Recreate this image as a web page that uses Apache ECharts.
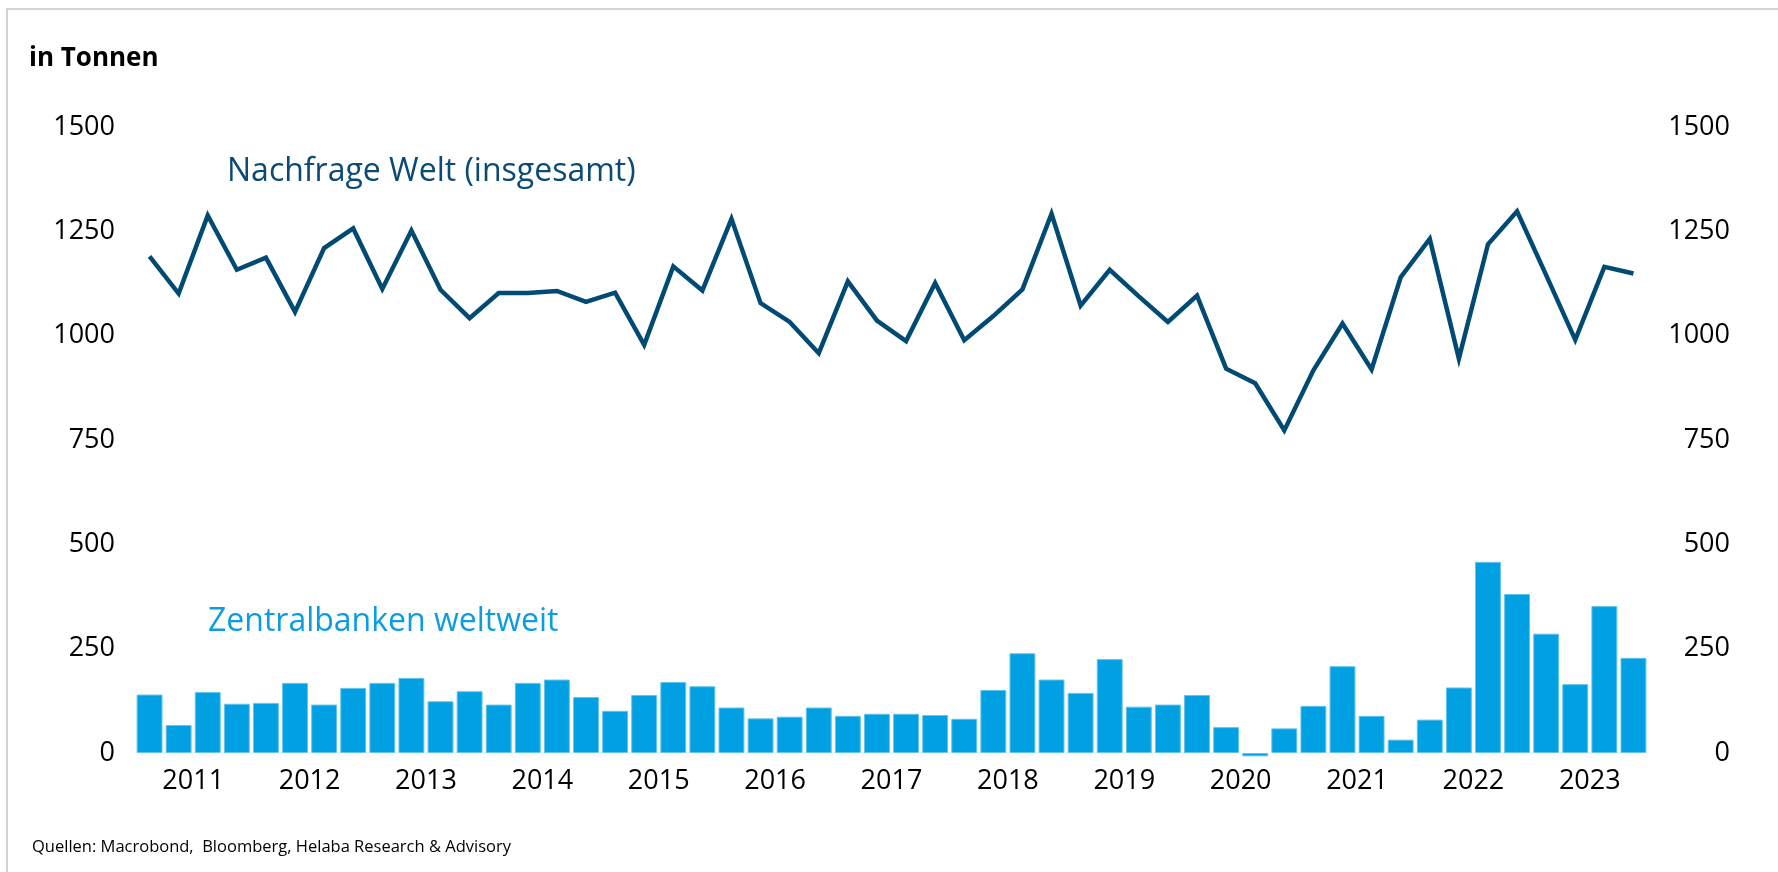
<!DOCTYPE html>
<html>
<head>
<meta charset="utf-8">
<script src="https://cdn.jsdelivr.net/npm/echarts@6/dist/echarts.min.js"></script>
<style>
  html, body { margin: 0; padding: 0; background: #fff; }
  #chart { width: 1778px; height: 872px; }
</style>
</head>
<body>
<div id="chart"></div>
<script>
var years = ['2011', '2012', '2013', '2014', '2015', '2016', '2017', '2018', '2019', '2020', '2021', '2022', '2023'];
var quarters = [];
years.forEach(function (y) {
  ['Q1', 'Q2', 'Q3', 'Q4'].forEach(function (q) { quarters.push(y + q); });
});

// Nachfrage Welt (insgesamt), Tonnen je Quartal
var demandWorld = [1190, 1101, 1288, 1158, 1187, 1057, 1210, 1257, 1112, 1252, 1110, 1042, 1102,
  1102, 1107, 1081, 1103, 978, 1166, 1108, 1280, 1078, 1033, 958, 1130, 1036, 987, 1126, 989,
  1047, 1111, 1292, 1072, 1158, 1094, 1033, 1096, 921, 886, 773, 917, 1029, 919, 1140, 1232,
  945, 1219, 1298, 1145, 990, 1165, 1149];

// Zentralbanken weltweit
var centralBanks = [140, 67, 146, 118, 120, 168, 116, 156, 168, 180, 124, 148, 116, 168, 176,
  134, 101, 139, 170, 160, 109, 83, 87, 109, 89, 94, 94, 91, 82, 151, 239, 176, 144, 225, 111,
  116, 139, 62, -8, 59, 113, 208, 89, 32, 80, 157, 458, 381, 286, 165, 352, 228];

var font = 'Open Sans';
var chart = echarts.init(document.getElementById('chart'));

function plain(v) { return String(v); }

var option = {
  backgroundColor: '#fff',
  animation: false,
  textStyle: { fontFamily: font },
  title: [
    { text: 'in Tonnen', left: 24, top: 41,
      textStyle: { fontFamily: font, fontSize: 26, fontWeight: 'bold', color: '#000' } },
    { text: 'Nachfrage Welt (insgesamt)', left: 222, top: 151,
      textStyle: { fontFamily: font, fontSize: 32, fontWeight: 'normal', color: '#0a4a75' } },
    { text: 'Zentralbanken weltweit', left: 203, top: 601,
      textStyle: { fontFamily: font, fontSize: 32, fontWeight: 'normal', color: '#0a9de0' } },
    { text: 'Quellen: Macrobond,  Bloomberg, Helaba Research & Advisory', left: 27, top: 834,
      textStyle: { fontFamily: font, fontSize: 16.5, fontWeight: 'normal', color: '#000' } }
  ],
  graphic: [{
    type: 'rect',
    shape: { x: 7, y: 9, width: 1800, height: 900 },
    style: { fill: 'none', stroke: '#d4d4d4', lineWidth: 2 },
    silent: true
  }],
  grid: { left: 135, right: 130, top: 127, bottom: 119 },
  xAxis: [{
    type: 'category',
    data: quarters,
    boundaryGap: true,
    axisLine: { show: false },
    axisTick: { show: false },
    axisLabel: { show: false }
  }, {
    type: 'category',
    data: years,
    position: 'bottom',
    boundaryGap: true,
    axisLine: { show: false },
    axisTick: { show: false },
    axisLabel: { margin: 15, fontSize: 27, color: '#000', fontFamily: font }
  }],
  yAxis: [{
    type: 'value',
    min: 0, max: 1500, interval: 250,
    splitLine: { show: false },
    axisLine: { show: false },
    axisTick: { show: false },
    axisLabel: { margin: 20, fontSize: 27, color: '#000', fontFamily: font, formatter: plain }
  }, {
    type: 'value',
    position: 'right',
    min: 0, max: 1500, interval: 250,
    splitLine: { show: false },
    axisLine: { show: false },
    axisTick: { show: false },
    axisLabel: { margin: 82, align: 'right', fontSize: 27, color: '#000', fontFamily: font, formatter: plain }
  }],
  series: [{
    name: 'Zentralbanken weltweit',
    type: 'bar',
    data: centralBanks,
    clip: false,
    barCategoryGap: '11%',
    itemStyle: { color: '#00a0e2', borderColor: '#62c3ec', borderWidth: 1 }
  }, {
    name: 'Nachfrage Welt (insgesamt)',
    type: 'line',
    data: demandWorld,
    symbol: 'none',
    lineStyle: { color: '#004a74', width: 4.5, join: 'miter' }
  }]
};

chart.setOption(option);
</script>
</body>
</html>
